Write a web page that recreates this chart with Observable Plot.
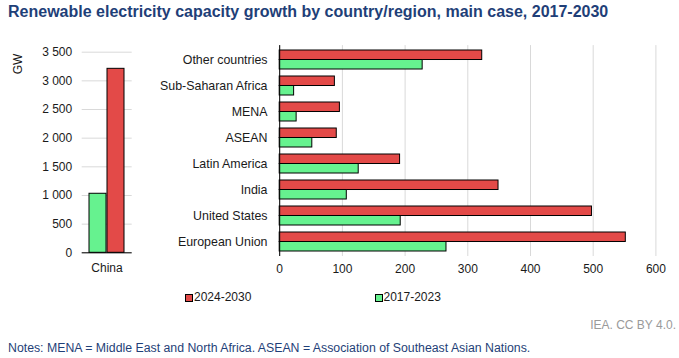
<!DOCTYPE html>
<html><head><meta charset="utf-8">
<script src="https://cdn.jsdelivr.net/npm/d3@7"></script>
<script src="https://cdn.jsdelivr.net/npm/@observablehq/plot@0.6"></script>
<style>
body{margin:0;background:#fff;}
#wrap{position:relative;width:679px;height:358px;font-family:"Liberation Sans",Arial,sans-serif;overflow:hidden;background:#fff;}
#title{position:absolute;left:8px;top:3.5px;font-size:16px;line-height:1;font-weight:bold;color:#1f3f78;white-space:nowrap;}
#left{position:absolute;left:0;top:40px;}
#right{position:absolute;left:150px;top:40px;}
#right svg g[aria-label="y-axis tick label"]{font-size:12.4px;}
#ylab{position:absolute;left:18px;top:64px;font-size:12px;line-height:1;color:#1a1a1a;white-space:nowrap;transform:translate(-50%,-50%) rotate(-90deg);}
.leg{position:absolute;top:291px;font-size:12px;line-height:1;color:#1a1a1a;white-space:nowrap;}
.sw{position:absolute;top:293.5px;width:6px;height:6px;border:1px solid #000;}
#credit{position:absolute;right:3px;top:319px;font-size:12px;line-height:1;color:#9a9a9a;white-space:nowrap;}
#notes{position:absolute;left:8px;top:341.6px;font-size:12.3px;line-height:1;color:#1f3f78;white-space:nowrap;}
</style></head><body>
<div id="wrap">
  <div id="title">Renewable electricity capacity growth by country/region, main case, 2017-2030</div>
  <div id="left"></div>
  <div id="right"></div>
  <div id="ylab"></div>
  <div id="legend"></div>
  <div id="credit">IEA. CC BY 4.0.</div>
  <div id="notes">Notes: MENA = Middle East and North Africa. ASEAN = Association of Southeast Asian Nations.</div>
</div>
<script>
// ---- data ----
const chinaCategory = ["China"];
const chinaRecent = [1030];   // 2017-2023, GW
const chinaFuture = [3210];   // 2024-2030, GW
const regions = ["Other countries", "Sub-Saharan Africa", "MENA", "ASEAN", "Latin America", "India", "United States", "European Union"];
const recent = [228, 23, 27, 52, 126, 107, 193, 266];   // 2017-2023, GW
const future = [323, 88, 96, 91, 192, 349, 498, 552];   // 2024-2030, GW
const seriesNames = ["2024-2030", "2017-2023"];
const gwTicks = [0, 500, 1000, 1500, 2000, 2500, 3000, 3500];
const xTicks = [0, 100, 200, 300, 400, 500, 600];
const yLabel = "GW";

// ---- styles ----
const RED = "#e34a48", GREEN = "#66f28f", GRID = "#d9d9d9", TXT = "#1a1a1a";
const fmt = d => d3.format(",")(d).replace(/,/g, "\u00a0");
const baseStyle = {fontSize: "12px", fontFamily: '"Liberation Sans", Arial, sans-serif', color: TXT, background: "transparent", overflow: "visible"};

document.getElementById("ylab").textContent = yLabel;

// ---- left panel (China) ----
const chinaData = chinaCategory.map((c, i) => ({c, recent: chinaRecent[i], future: chinaFuture[i]}));
const L = {w: 145, h: 245, mt: 11.7, mb: 32.7, ml: 81.7, mr: 13.3};
const lbw = (L.w - L.ml - L.mr) * 0.72;
const left = Plot.plot({
  width: L.w, height: L.h, marginTop: L.mt, marginBottom: L.mb, marginLeft: L.ml, marginRight: L.mr,
  style: baseStyle,
  x: {type: "band", domain: chinaCategory, paddingInner: 0.28, paddingOuter: 0.14, label: null, tickSize: 0, tickPadding: 11},
  y: {domain: [0, 3500], ticks: gwTicks, tickFormat: fmt, tickSize: 0, tickPadding: 10, label: null},
  marks: [
    Plot.gridY(gwTicks, {stroke: GRID, strokeOpacity: 1}),
    Plot.barY(chinaData, {x: "c", y: "recent", fill: GREEN, stroke: "#000", strokeWidth: 1, insetRight: lbw / 2}),
    Plot.barY(chinaData, {x: "c", y: "future", fill: RED, stroke: "#000", strokeWidth: 1, insetLeft: lbw / 2}),
    Plot.ruleY([0], {stroke: "#000"})
  ]
});
document.getElementById("left").appendChild(left);

// ---- right panel (regions) ----
const regionData = regions.map((r, i) => ({r, recent: recent[i], future: future[i]}));
const R = {w: 529, h: 245, mt: 5.1, mb: 29, ml: 129.2, mr: 23.6};
const rbw = (R.h - R.mt - R.mb) / regions.length * 0.72;
const right = Plot.plot({
  width: R.w, height: R.h, marginTop: R.mt, marginBottom: R.mb, marginLeft: R.ml, marginRight: R.mr,
  style: baseStyle,
  x: {domain: [0, 600], ticks: xTicks, tickSize: 0, tickPadding: 8.3, label: null},
  y: {type: "band", domain: regions, paddingInner: 0.28, paddingOuter: 0.14, tickSize: 0, tickPadding: 12.2, label: null},
  marks: [
    Plot.gridX(xTicks, {stroke: GRID, strokeOpacity: 1}),
    Plot.barX(regionData, {y: "r", x: "future", fill: RED, stroke: "#000", strokeWidth: 1, insetBottom: rbw / 2}),
    Plot.barX(regionData, {y: "r", x: "recent", fill: GREEN, stroke: "#000", strokeWidth: 1, insetTop: rbw / 2}),
    Plot.ruleX([0], {stroke: "#000"})
  ]
});
document.getElementById("right").appendChild(right);

// ---- legend ----
const legend = document.getElementById("legend");
const legPos = [{sw: 184.5, tx: 194}, {sw: 374.5, tx: 383.5}];
const legColors = [RED, GREEN];
seriesNames.forEach((name, i) => {
  const s = document.createElement("div");
  s.className = "sw"; s.style.left = legPos[i].sw + "px"; s.style.background = legColors[i];
  const t = document.createElement("div");
  t.className = "leg"; t.style.left = legPos[i].tx + "px"; t.textContent = name;
  legend.appendChild(s); legend.appendChild(t);
});
</script>
</body></html>
